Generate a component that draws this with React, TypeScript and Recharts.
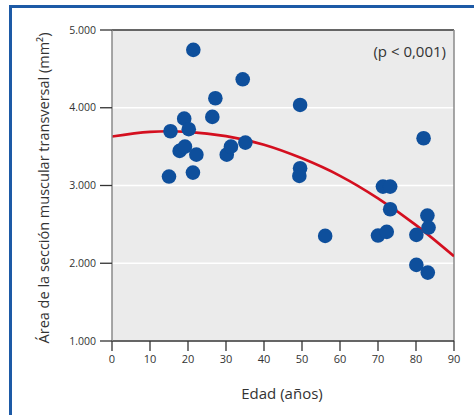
import React from "react";
import {
  ComposedChart,
  Scatter,
  Line,
  XAxis,
  YAxis,
  CartesianGrid,
  ReferenceLine,
} from "recharts";

// Age (years) of each subject
const ages = [
  21.4, 34.4, 27.2, 19.0, 26.4, 15.4, 20.2, 35.1, 17.8, 19.2, 22.2, 30.2, 31.3,
  15.0, 21.3, 49.5, 82.0, 49.5, 49.3, 56.1, 71.3, 73.2, 73.2, 83.0, 83.3, 70.0,
  72.3, 80.1, 80.1, 83.1,
];
// Cross-sectional muscle area (mm²)
const areas = [
  4745, 4366, 4122, 3860, 3882, 3698, 3724, 3552, 3445, 3500, 3397, 3397, 3500,
  3115, 3166, 4036, 3608, 3222, 3123, 2352, 2986, 2986, 2695, 2613, 2459, 2356,
  2404, 2365, 1979, 1880,
];
// Fitted curve
const curveAges = [0, 10, 20, 30, 40, 50, 60, 70, 80, 90];
const curveAreas = [3630, 3690, 3690, 3635, 3525, 3350, 3125, 2835, 2490, 2090];

const xTicks = [0, 10, 20, 30, 40, 50, 60, 70, 80, 90];
const yTicks = [1000, 2000, 3000, 4000, 5000];

const points = ages.map((x, i) => ({ x, y: areas[i] }));
const curve = curveAges.map((x, i) => ({ x, y: curveAreas[i] }));

const fmtY = (v: number) => v.toLocaleString("de-DE");

const FONT = "'Open Sans', sans-serif";

const Dot = (props: any) => {
  const { cx, cy } = props;
  if (cx == null || cy == null) return null;
  return <circle cx={cx} cy={cy} r={7.3} fill="#0e4f9c" />;
};

export default function App() {
  return (
    <div
      style={{
        position: "absolute",
        left: 0,
        top: 0,
        width: 474,
        height: 415,
        background: "#fff",
        overflow: "hidden",
        fontFamily: FONT,
      }}
    >
      <div
        style={{
          position: "absolute",
          left: 9,
          top: 5,
          width: 480,
          height: 430,
          borderLeft: "3px solid #1d5aa6",
          borderTop: "3px solid #1d5aa6",
        }}
      />
      <div style={{ position: "absolute", left: 0, top: 0 }}>
        <ComposedChart
          width={474}
          height={415}
          margin={{ top: 30, right: 20, bottom: 44, left: 52 }}
        >
          <CartesianGrid
            fill="#ebebeb"
            stroke="#ffffff"
            strokeWidth={1.5}
            vertical={false}
          />
          <XAxis
            type="number"
            dataKey="x"
            domain={[0, 90]}
            ticks={xTicks}
            allowDataOverflow
            height={30}
            tickSize={10}
            tickMargin={4}
            axisLine={{ stroke: "#333", strokeWidth: 1.3 }}
            tickLine={{ stroke: "#333", strokeWidth: 1.3 }}
            tick={{ fill: "#333", fontSize: 11, fontFamily: FONT }}
          />
          <YAxis
            type="number"
            dataKey="y"
            domain={[1000, 5000]}
            ticks={yTicks}
            allowDataOverflow
            width={60}
            tickSize={12}
            tickMargin={4}
            tickFormatter={fmtY}
            axisLine={{ stroke: "#8a8a8a", strokeWidth: 1.5 }}
            tickLine={{ stroke: "#333", strokeWidth: 1.3 }}
            tick={{ fill: "#333", fontSize: 10.5, fontFamily: FONT }}
          />
          <ReferenceLine y={5000} stroke="#333" strokeWidth={1.3} />
          <ReferenceLine x={90} stroke="#8a8a8a" strokeWidth={1.5} />
          <Line
            data={curve}
            dataKey="y"
            type="natural"
            stroke="#d40f1f"
            strokeWidth={2.6}
            dot={false}
            activeDot={false}
            isAnimationActive={false}
          />
          <Scatter
            data={points}
            dataKey="y"
            shape={Dot}
            isAnimationActive={false}
          />
        </ComposedChart>
      </div>
      <div
        style={{
          position: "absolute",
          left: 43,
          top: 188,
          transform: "translate(-50%, -50%) rotate(-90deg)",
          whiteSpace: "nowrap",
          fontSize: 14.5,
          color: "#333",
        }}
      >
        Área de la sección muscular transversal (mm²)
      </div>
      <div
        style={{
          position: "absolute",
          left: 282,
          top: 393,
          transform: "translate(-50%, -50%)",
          whiteSpace: "nowrap",
          fontSize: 15,
          color: "#333",
        }}
      >
        Edad (años)
      </div>
      <div
        style={{
          position: "absolute",
          left: 446,
          top: 51,
          transform: "translate(-100%, -50%)",
          whiteSpace: "nowrap",
          fontSize: 15,
          color: "#333",
        }}
      >
        (p &lt; 0,001)
      </div>
    </div>
  );
}
